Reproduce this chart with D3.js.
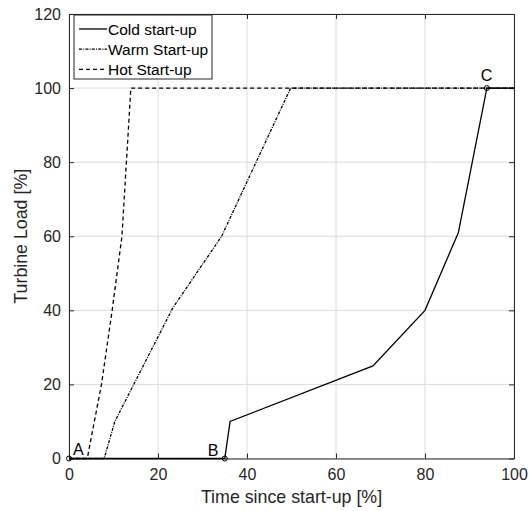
<!DOCTYPE html>
<html>
<head>
<meta charset="utf-8">
<script src="https://cdn.jsdelivr.net/npm/d3@7"></script>
<style>
  body { margin: 0; background: #fff; }
  text { font-family: "Liberation Sans", Arial, sans-serif; }
</style>
</head>
<body>
<svg id="chart"></svg>
<script>
/* chart size and plot box */
const width = 529, height = 511, margin = { top: 14, right: 15, bottom: 52, left: 69 };

/* data: [time %, load %] */
const coldX = [0, 35, 36.2, 68.3, 80, 87.5, 93.9, 100];
const coldY = [0, 0, 10, 25, 40, 61, 100, 100];
const warmX = [0, 7.9, 10.3, 23.3, 34.3, 49.8, 100];
const warmY = [0, 0, 10, 40.6, 60, 100, 100];
const hotX = [0, 4.1, 7.3, 9.7, 11.9, 13.9, 100];
const hotY = [0, 0, 20, 40, 60, 100, 100];
const xTicks = [0, 20, 40, 60, 80, 100];
const yTicks = [0, 20, 40, 60, 80, 100, 120];
const markNames = ["A", "B", "C"];
const markX = [0, 35, 93.9];
const markY = [0, 0, 100];

const series = [
  { name: "Cold start-up", xs: coldX, ys: coldY, dash: null },
  { name: "Warm Start-up", xs: warmX, ys: warmY, dash: "3,1.2,1,1.2" },
  { name: "Hot Start-up", xs: hotX, ys: hotY, dash: "4,3" }
];

const svg = d3.select("#chart").attr("width", width).attr("height", height);
const x = d3.scaleLinear().domain([0, 100]).range([margin.left, width - margin.right]);
const y = d3.scaleLinear().domain([0, 120]).range([height - margin.bottom - 0.5, margin.top]);

/* grid */
svg.append("g").selectAll("line.gx").data(xTicks).enter().append("line")
  .attr("x1", d => x(d)).attr("x2", d => x(d)).attr("y1", y(0)).attr("y2", y(120))
  .attr("stroke", "#dcdcdc").attr("stroke-width", 1);
svg.append("g").selectAll("line.gy").data(yTicks).enter().append("line")
  .attr("y1", d => y(d)).attr("y2", d => y(d)).attr("x1", x(0)).attr("x2", x(100))
  .attr("stroke", "#dcdcdc").attr("stroke-width", 1);

/* axes, ticks inward on all sides */
const axisStyle = g => {
  g.select(".domain").attr("stroke", "#262626");
  g.selectAll(".tick line").attr("stroke", "#262626");
  g.selectAll(".tick text").attr("fill", "#262626").attr("font-size", 16)
    .attr("font-family", "'Liberation Sans', Arial, sans-serif");
};
svg.append("g").attr("transform", `translate(0,${y(0)})`)
  .call(d3.axisBottom(x).tickValues(xTicks).tickSizeInner(-5).tickSizeOuter(0).tickPadding(10))
  .call(axisStyle);
svg.append("g").attr("transform", `translate(0,${y(120)})`)
  .call(d3.axisTop(x).tickValues(xTicks).tickSizeInner(-5).tickSizeOuter(0).tickFormat(""))
  .call(axisStyle);
svg.append("g").attr("transform", `translate(${x(0)},0)`)
  .call(d3.axisLeft(y).tickValues(yTicks).tickSizeInner(-5).tickSizeOuter(0).tickPadding(8))
  .call(axisStyle);
svg.append("g").attr("transform", `translate(${x(100)},0)`)
  .call(d3.axisRight(y).tickValues(yTicks).tickSizeInner(-5).tickSizeOuter(0).tickFormat(""))
  .call(axisStyle);

/* lines */
const line = d3.line().x(d => x(d[0])).y(d => y(d[1]));
series.forEach(s => {
  svg.append("path").datum(s.xs.map((v, i) => [v, s.ys[i]]))
    .attr("d", line).attr("fill", "none").attr("stroke", "#000")
    .attr("stroke-width", 1.3).attr("stroke-dasharray", s.dash);
});

/* marked points */
markNames.forEach((n, i) => {
  svg.append("circle").attr("cx", x(markX[i])).attr("cy", y(markY[i])).attr("r", 2.5)
    .attr("fill", "none").attr("stroke", "#000").attr("stroke-width", 1);
});
svg.append("text").attr("x", x(markX[0]) + 4).attr("y", y(markY[0]) - 4).attr("font-size", 16).text(markNames[0]);
svg.append("text").attr("x", x(markX[1]) - 17).attr("y", y(markY[1]) - 3).attr("font-size", 16).text(markNames[1]);
svg.append("text").attr("x", x(markX[2]) - 6).attr("y", y(markY[2]) - 7).attr("font-size", 16).text(markNames[2]);

/* legend */
const legend = svg.append("g").attr("transform", `translate(74,15)`);
legend.append("rect").attr("width", 138).attr("height", 64)
  .attr("fill", "#fff").attr("stroke", "#262626").attr("stroke-width", 1);
series.forEach((s, i) => {
  const ly = 14 + i * 20.2;
  legend.append("line").attr("x1", 5).attr("x2", 33).attr("y1", ly).attr("y2", ly)
    .attr("stroke", "#000").attr("stroke-width", 1.3).attr("stroke-dasharray", s.dash);
  legend.append("text").attr("x", 34).attr("y", ly + 5.5).attr("font-size", 15.5).text(s.name);
});

/* axis titles */
svg.append("text").attr("x", (x(0) + x(100)) / 2).attr("y", 503).attr("text-anchor", "middle")
  .attr("font-size", 17.8).attr("fill", "#262626").text("Time since start-up [%]");
svg.append("text").attr("transform", `translate(27,${(y(0) + y(120)) / 2}) rotate(-90)`)
  .attr("text-anchor", "middle").attr("font-size", 17.8).attr("fill", "#262626").text("Turbine Load [%]");
</script>
</body>
</html>
